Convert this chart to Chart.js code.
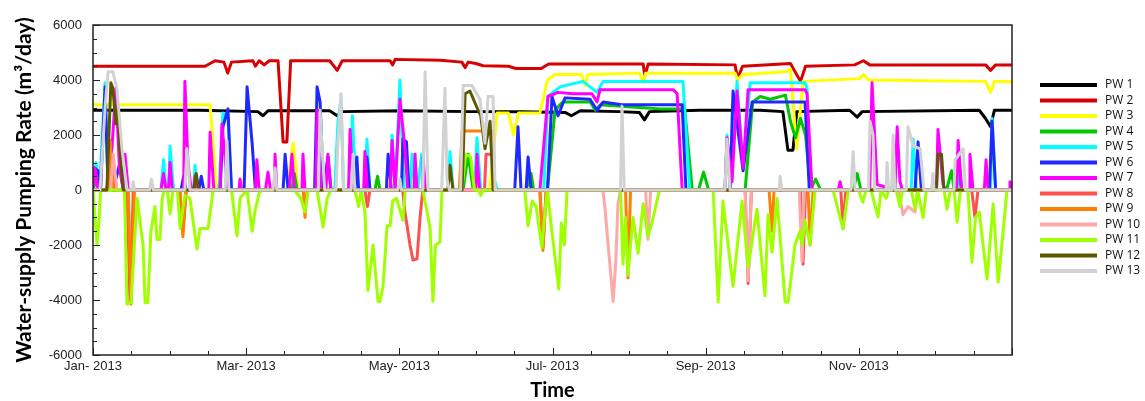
<!DOCTYPE html>
<html>
<head>
<meta charset="utf-8">
<script src="https://cdn.jsdelivr.net/npm/chart.js@4.4.1/dist/chart.umd.min.js"></script>
<style>
  html, body { margin: 0; padding: 0; background: #fff; }
  #wrap { width: 1145px; height: 401px; }
</style>
</head>
<body>
<div id="wrap"><canvas id="pumping" width="1145" height="401"></canvas></div>
<script>
// x = day of 2013 (0 = 1 Jan), y = pumping rate in m3/day
const wellNames = ['PW 1', 'PW 2', 'PW 3', 'PW 4', 'PW 5', 'PW 6', 'PW 7', 'PW 8', 'PW 9', 'PW 10', 'PW 11', 'PW 12', 'PW 13'];
const wellColors = ['#000000', '#d80000', '#ffff00', '#00c800', '#00ffff', '#1e28ff', '#ff00ff',
  '#ff5050', '#ff8000', '#ffa8a8', '#a0ff00', '#5c5800', '#d2d2d2'];

const monthTicks = [0, 60.83, 121.67, 182.5, 243.33, 304.17];
const monthLabels = ['Jan- 2013', 'Mar- 2013', 'May- 2013', 'Jul- 2013', 'Sep- 2013', 'Nov- 2013'];
const rateTicks = [-6000, -4000, -2000, 0, 2000, 4000, 6000];

const pw1 = [[0,2900],[42,2900],[65.5,2850],[67.5,2700],[69.5,2880],[94,2880],[97,2700],[99,2850],[122,2880],
  [150,2850],[170,2850],[187.5,2820],[190,2700],[193.5,2880],[209,2850],[217,2820],[219,2550],[221,2850],
  [241,2900],[265,2900],[274,2850],[276,1450],[278,1450],[279.5,2850],[300.5,2900],[303.5,2650],[305.5,2850],
  [352,2900],[354.5,2600],[356.5,2300],[358,2900],[365,2900]];

const pw2 = [[0,4500],[44.5,4500],[48.5,4700],[52,4650],[53.5,4250],[55,4650],[63.5,4700],[64.5,4500],[66,4700],
  [68,4550],[70,4700],[73.5,4700],[75.5,1750],[77,1750],[78.5,4700],[94,4700],[97,4350],[99,4700],[118,4700],
  [119,4550],[120,4750],[138,4720],[146.5,4650],[147.8,4450],[149,4650],[152,4600],[155,4520],[165,4500],
  [168,4420],[178,4420],[181,4580],[218.5,4580],[219.2,4150],[220.5,4580],[255,4550],[256,4050],[258,4500],
  [277,4600],[281,3950],[283,4500],[302.5,4550],[306,4700],[308.5,4550],[354.5,4550],[356.5,4350],[358.5,4550],
  [365,4550]];

const pw3 = [[0,3100],[46.5,3100],[49,100],[50,0],[77,0],[79.5,1700],[81.5,0],[157.5,0],[160.5,2800],[165,2800],
  [167,2000],[169,2800],[177.5,2800],[180.5,4000],[183.5,4200],[194,4200],[195.5,3800],[196.5,4200],[217,4250],
  [218.5,3900],[219.5,4250],[255,4250],[256,4000],[258,4200],[275,4300],[277,4400],[279.5,1500],[282,3950],
  [304.5,4050],[306,4200],[308,4000],[354.5,3950],[356.5,3550],[358,3950],[365,3950]];

const pw4 = [[0,0],[1,300],[3,0],[40,0],[41,400],[42,0],[79,0],[80,600],[81,0],[112,0],[113,500],[114,0],
  [147,0],[149,1300],[151,0],[172,0],[174,600],[175,0],[180.5,0],[183.5,2900],[186.5,3200],[197.5,3200],
  [199.5,2900],[201.5,3100],[217,3000],[225,2950],[235,2950],[238,0],[240.5,0],[242.5,650],[244.5,0],[259,0],
  [262,3200],[265,3400],[269,3300],[275,3450],[277,2500],[279,1900],[281,2600],[283,2000],[285,0],[287,400],
  [289,0],[302,0],[303.5,600],[305,0],[339,0],[341,700],[342,0],[365,0]];

const pw5 = [[0,0],[1.2,1000],[2.5,0],[4.8,3900],[6,0],[27,0],[28,1100],[29,0],[30,0],[30.6,1600],[32,0],[40,0],
  [40.5,900],[41.5,0],[50,0],[51.6,2800],[53.6,2600],[55,0],[96,0],[97.3,2500],[98.5,3300],[99.5,0],[102,0],
  [103,2700],[104.5,0],[108,0],[108.8,1850],[110,0],[118,0],[118.8,2000],[120,0],[121.9,4000],[123.5,0],[126,0],
  [126.7,1300],[128,0],[129,0],[130.5,1300],[132,0],[141,0],[141.8,1400],[143,0],[151.5,0],[152.5,1900],
  [154,0],[159,0],[159.7,300],[160.5,0],[179,0],[180.7,3400],[185.5,3750],[194.6,3950],[200.2,3550],
  [202.6,3950],[234.3,3950],[237,0],[251,0],[251.8,2000],[253,0],[255.8,3950],[258.2,800],[261,3900],
  [282.8,3900],[283.6,3700],[284.8,0],[325,0],[325.7,1850],[327,0],[343,0],[343.6,1200],[344.5,0],[356.5,0],
  [357.1,2600],[358.5,0],[365,0]];

const pw6 = [[0,0],[0.5,800],[2,700],[3,0],[4.8,3750],[6,0],[6.8,800],[8,0],[10.7,1000],[12,0],[35,0],[36,500],
  [37,0],[42,0],[43,500],[44,0],[50.5,0],[51.6,2300],[53.6,2950],[55,0],[60,0],[61.2,3750],[63.2,1700],
  [64.5,0],[75.5,0],[76.3,1300],[77.5,0],[88,0],[89,3750],[90.2,3200],[91.5,0],[93.3,1200],[94.5,0],[104,0],
  [104.8,1200],[105.5,0],[108,0],[108.8,1200],[110,0],[116.5,0],[117.2,1300],[118.5,0],[122.5,0],[123.1,1850],
  [124.5,1750],[125.5,0],[167.5,0],[168.8,2300],[170,0],[172,0],[172.8,1200],[174,0],[180.5,0],[182.3,3400],
  [184.7,2700],[187.5,3350],[197.4,3300],[200.2,2900],[202.6,3200],[210,3100],[234,3100],[235.5,0],[253,0],
  [254.2,3600],[258.2,700],[261.8,3200],[282.8,3200],[284.5,0],[326.5,0],[327.7,1750],[329,0],[342.5,0],
  [343.6,1400],[345,0],[356,0],[357.1,2500],[358.5,0],[365,0]];

const pw7 = [[0,0],[0.8,800],[2,0],[5.5,0],[7.5,1500],[9.1,3700],[10.5,800],[12,0],[12.7,1300],[14,0],[27,0],
  [28,600],[29,0],[30,0],[30.6,1000],[31.5,0],[36,0],[36.5,3950],[37.7,1000],[39,0],[40,0],[40.5,500],[41.5,0],
  [46,0],[46.5,2100],[48,0],[50.5,0],[51.2,2400],[52.4,1200],[53.5,0],[58,0],[58.4,400],[59,0],[64.5,0],
  [65.1,1100],[66,0],[68.5,0],[69.5,650],[70.5,0],[72,0],[72.3,1300],[73,0],[78,0],[79,1300],[80,0],[83,0],
  [83.4,1300],[84.2,0],[88.5,0],[89,2900],[90.5,0],[92.5,0],[93.3,1300],[94.5,0],[101.5,0],[102.1,2200],
  [103.3,0],[107.5,0],[108,1400],[109,0],[118,0],[118.8,1800],[120,0],[121.9,3300],[123.9,1500],[125,0],
  [127.5,0],[127.9,1300],[128.7,0],[131,0],[131.1,1200],[132,0],[152,0],[152.5,1300],[153.5,0],[177.5,0],
  [180.7,3400],[184.7,3550],[190.7,3500],[198.2,3500],[200.2,3200],[201.4,3650],[230.4,3650],[232,3500],
  [234,0],[251,0],[251.8,1900],[253.8,300],[255.8,3600],[258.2,800],[260.2,3650],[282.8,3650],[283.6,3500],
  [285.6,0],[296,0],[296.7,300],[297.5,0],[308.5,0],[309.4,3900],[311.4,200],[318.5,0],[319.4,2300],
  [320.5,300],[321.5,0],[335,0],[335.6,2200],[337.6,200],[338.5,0],[343,0],[343.6,1800],[345,0],[348,0],
  [348.3,1300],[349.5,0],[354,0],[354.7,1100],[355.5,0],[364,0],[364.2,300],[365,0]];

const pw8 = [[0,0],[6,0],[7.5,1300],[9,0],[13.5,0],[14.7,-4100],[16,0],[34.5,0],[35.7,-1500],[37,0],[108,0],
  [109,-600],[110,0],[123,0],[123.9,-800],[125.9,-2000],[127.1,-2550],[128.7,-2500],[129.9,-1000],[131,0],
  [155.5,0],[156.1,1300],[158.9,1300],[159.5,0],[177.5,0],[178.7,-2100],[180,0],[259,0],[260.2,-3400],
  [261.5,0],[281,0],[282,-2700],[283,0],[297,0],[297.9,-1400],[299,0],[349,0],[350.3,-1000],[351.5,0],[365,0]];

const pw9 = [[0,0],[6,0],[6.8,1800],[8,0],[14,0],[15.1,-4150],[16.5,0],[34.5,0],[35.7,-1700],[37,0],[83.5,0],
  [84.2,-1000],[85,0],[145.5,0],[146.6,2150],[158.5,2150],[159,0],[177.5,0],[178.7,-2200],[180,0],[211.5,0],
  [212.5,-3200],[213.5,0],[268.5,0],[269.7,-1500],[270.5,0],[284,0],[284.8,-2000],[286,0],[365,0]];

const pw10 = [[0,0],[7,0],[8,1300],[9.5,0],[202.5,0],[203.4,-700],[204.6,-2000],[206.6,-4050],[207.7,-2500],
  [208.5,-500],[209.5,0],[219.5,0],[220.4,-1800],[221.5,0],[259,0],[260.2,-3300],[261.5,0],[280.5,0],
  [281.6,-2600],[282.5,0],[320,0],[321.7,-900],[323.7,-600],[326.5,-800],[327.5,0],[365,0]];

const pw11 = [[0,0],[0.5,-600],[1.6,-2000],[2.5,-1000],[3,0],[12.5,0],[13.5,-4150],[15.1,-4100],[17.5,-300],
  [19.9,-2000],[20.7,-4100],[21.8,-4100],[23,-1500],[24.6,-600],[25.4,-1800],[26.6,-1800],[27.4,-400],[28.2,0],
  [29.5,0],[30.6,-870],[31.8,0],[33.5,0],[34.6,-1400],[36.5,-200],[38.5,-300],[41.3,-2150],[42.5,-1400],
  [45.7,-1400],[47.7,0],[55,0],[57.2,-1670],[58.4,-300],[61.2,0],[63.2,-1500],[64.3,-800],[66,-100],[67.5,0],
  [80,0],[82.5,-300],[84.2,-800],[85.5,0],[89,0],[91.4,-1350],[93,-300],[94.5,0],[104,0],[105.5,-600],
  [106.5,0],[108,-800],[109.2,-3650],[111.2,-2000],[113.2,-4050],[114,-4050],[115.2,-3500],[116.8,-1300],
  [118,-1300],[119,-400],[120.5,-300],[123.1,-1100],[124,0],[131,0],[132.7,-800],[133.9,-1400],[135,-4050],
  [136,-2000],[137.8,-1900],[138.6,0],[146.5,0],[148,1300],[150,1200],[151.5,0],[153,0],[154,-200],[155,0],
  [171.5,0],[172.8,-1300],[174.4,-400],[176,-600],[178.3,-2100],[179.5,-800],[180.5,0],[182,-1300],
  [185,-3600],[186,-1200],[187.2,-2000],[188.3,0],[209.5,0],[210.5,-2700],[211.5,-1000],[212.5,-3100],
  [213.5,-2000],[214.5,-1000],[216.5,-2300],[218.5,-500],[220.4,-1700],[222,-1200],[224,-400],[225,0],
  [246.3,0],[248.3,-4070],[250.2,-400],[254.2,-3500],[257.8,-400],[260.2,-2800],[263.7,-700],[266.9,-3850],
  [268.1,-900],[269.7,-2260],[271.7,-300],[274.9,-4070],[276.1,-4070],[278.8,-2000],[280.8,-1500],
  [281.6,-2000],[282.8,-1100],[284.8,-2000],[286.8,0],[293.9,0],[297.9,-1420],[300,0],[304,0],[305.8,-440],
  [307,0],[309,0],[311.8,-980],[313,0],[315,-300],[316,0],[319,0],[320.5,-600],[321.5,0],[325,0],[326.5,-700],
  [327.5,0],[329.7,-1000],[331,0],[338,0],[339.2,-700],[340.5,0],[342,0],[343.2,-1170],[344.5,0],[347.5,0],
  [349.1,-2620],[350.5,-1000],[352,-800],[355.1,-3240],[357.5,-500],[359.5,-3350],[361.5,-1500],[363,0],
  [365,0]];

const pw12 = [[0,0],[5.5,0],[7.1,3900],[7.9,3700],[9.1,2400],[9.9,3000],[10.7,1500],[12,0],[40,0],[41,600],
  [42,0],[141,0],[141.8,900],[143,0],[146.6,0],[147.8,3500],[149.7,3600],[152.5,3000],[154,2700],[155.7,1500],
  [157.7,2500],[158.9,0],[335,0],[335.6,1300],[337,1300],[338,0],[365,0]];

const pw13 = [[0,0],[2.8,0],[4.8,3000],[6,4300],[7.9,4300],[9.5,3700],[11.5,1500],[13.5,0],[15.5,0],[16,300],
  [16.5,0],[22.5,0],[23.2,400],[24,0],[36.5,0],[37.3,1500],[38.5,0],[52.5,0],[53.2,1800],[54,0],[71.5,0],
  [72.3,800],[73,0],[89.5,0],[90.2,2900],[91,1500],[92,0],[96.5,0],[97.3,1800],[98.5,3500],[99.5,0],[102.5,0],
  [103.3,1300],[104,0],[121,0],[121.9,400],[122.5,0],[131,0],[131.9,4300],[133.1,0],[138.5,0],[139.8,3700],
  [140.6,400],[141.5,0],[146,0],[147,3800],[150.5,3800],[153.7,3300],[155.7,1700],[156.9,3400],[158.9,3400],
  [159.7,0],[209.5,0],[210.1,3050],[211,0],[251,0],[251.8,1850],[253,0],[272.5,0],[272.9,500],[273.5,0],
  [301,0],[301.9,1400],[302.7,0],[308,0],[308.6,2500],[309.8,2000],[310.5,0],[315,0],[315.4,1000],[316,0],
  [317.2,0],[317.8,2000],[318.5,0],[323,0],[323.7,2300],[325.7,1600],[328.5,1500],[330,0],[333,0],[333.6,600],
  [334,0],[342,0],[342.4,1100],[345.6,1500],[346.5,0],[365,0]];

const wellSeries = [pw1, pw2, pw3, pw4, pw5, pw6, pw7, pw8, pw9, pw10, pw11, pw12, pw13];

// frame, inward tick marks and the legend (drawn over the lines like the original)
const frameAndLegend = {
  id: 'frameAndLegend',
  afterDraw(chart) {
    const {ctx, chartArea: a, scales: {x, y}} = chart;
    ctx.save();
    ctx.strokeStyle = '#222';
    ctx.lineWidth = 1;
    ctx.beginPath();
    for (let v = -6000; v <= 6000; v += 500) {
      const py = Math.round(y.getPixelForValue(v)) + 0.5;
      const len = v % 2000 === 0 ? 7 : 4;
      ctx.moveTo(a.left, py);
      ctx.lineTo(a.left + len, py);
    }
    for (let i = 0; i <= 24; i++) {
      const px = Math.round(x.getPixelForValue(365 * i / 24)) + 0.5;
      const len = i % 4 === 0 ? 7 : 4;
      ctx.moveTo(px, a.bottom);
      ctx.lineTo(px, a.bottom - len);
    }
    ctx.stroke();
    ctx.lineWidth = 1.5;
    ctx.strokeRect(a.left, a.top, a.right - a.left, a.bottom - a.top);

    ctx.font = '12px "Open Sans"';
    ctx.textBaseline = 'middle';
    wellNames.forEach((name, i) => {
      const ly = 85 + i * 15.5;
      ctx.fillStyle = wellColors[i];
      ctx.fillRect(1040, ly - 2, 57, 4);
      ctx.fillStyle = '#111';
      ctx.fillText(name, 1105, ly);
    });
    ctx.restore();
  }
};

new Chart(document.getElementById('pumping'), {
  type: 'line',
  data: {
    datasets: wellNames.map((name, i) => ({
      label: name,
      data: wellSeries[i].map(([d, v]) => ({x: d, y: v})),
      borderColor: wellColors[i],
      backgroundColor: wellColors[i],
      borderWidth: 3,
      pointRadius: 0,
      tension: 0,
      fill: false,
      borderJoinStyle: 'round',
      borderCapStyle: 'round',
      order: wellNames.length - i
    }))
  },
  options: {
    responsive: false,
    animation: false,
    events: [],
    layout: {padding: {top: 25, right: 133, left: 0, bottom: 0}},
    plugins: {legend: {display: false}, tooltip: {enabled: false}},
    scales: {
      x: {
        type: 'linear',
        min: 0,
        max: 365,
        grid: {display: false, drawTicks: false},
        border: {display: false},
        afterBuildTicks: s => { s.ticks = monthTicks.map(v => ({value: v})); },
        afterFit: s => { s.height = 46; },
        ticks: {
          autoSkip: false,
          maxRotation: 0,
          padding: 4,
          color: '#222',
          font: {family: '"Liberation Sans", Arial', size: 13},
          callback: (v, i) => monthLabels[i]
        },
        title: {
          display: true,
          text: 'Time',
          color: '#000',
          font: {family: 'Lato', size: 20, weight: 'bold'},
          padding: {top: 0, bottom: -2}
        }
      },
      y: {
        min: -6000,
        max: 6000,
        grid: {display: false, drawTicks: false},
        border: {display: false},
        afterBuildTicks: s => { s.ticks = rateTicks.map(v => ({value: v})); },
        afterFit: s => { s.width = 93; },
        ticks: {
          padding: 11,
          color: '#222',
          font: {family: '"Liberation Sans", Arial', size: 13},
          callback: v => String(v)
        },
        title: {
          display: true,
          text: 'Water-supply Pumping Rate (m³/day)',
          color: '#000',
          font: {family: 'Lato', size: 21, weight: 'bold'},
          padding: {top: 12, bottom: 0}
        }
      }
    }
  },
  plugins: [frameAndLegend]
});
</script>
</body>
</html>
